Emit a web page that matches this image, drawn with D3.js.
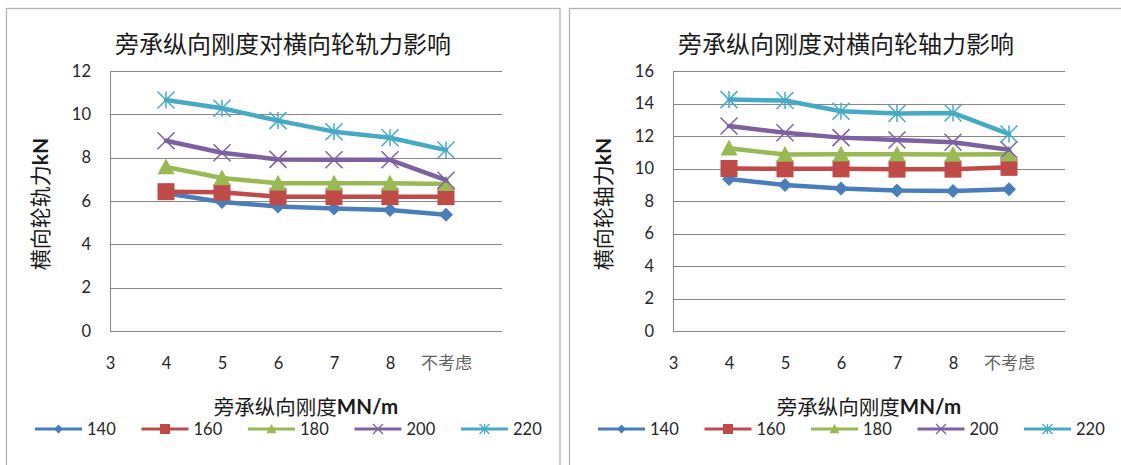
<!DOCTYPE html>
<html>
<head>
<meta charset="utf-8">
<script src="https://cdn.jsdelivr.net/npm/d3@7"></script>
<style>
  body { margin: 0; background: #fff; }
  svg { display: block; }
</style>
</head>
<body>
<svg id="chart" width="1121" height="465"></svg>
<script>
// Categories on the x axis (旁承纵向刚度, MN/m); "3" has no measurements
const categories = ["3", "4", "5", "6", "7", "8", "不考虑"];
const seriesNames = ["140", "160", "180", "200", "220"];

// 横向轮轨力 (kN)
const rail140 = [null, 6.36, 5.95, 5.75, 5.65, 5.58, 5.37];
const rail160 = [null, 6.43, 6.40, 6.20, 6.20, 6.20, 6.20];
const rail180 = [null, 7.57, 7.06, 6.82, 6.82, 6.82, 6.79];
const rail200 = [null, 8.78, 8.23, 7.92, 7.90, 7.90, 6.96];
const rail220 = [null, 10.66, 10.28, 9.71, 9.20, 8.92, 8.35];
const railTicks = [0, 2, 4, 6, 8, 10, 12];

// 横向轮轴力 (kN)
const axle140 = [null, 9.35, 8.98, 8.77, 8.64, 8.62, 8.73];
const axle160 = [null, 10.00, 9.98, 9.98, 9.96, 9.96, 10.07];
const axle180 = [null, 11.25, 10.86, 10.88, 10.88, 10.86, 10.88];
const axle200 = [null, 12.62, 12.20, 11.90, 11.75, 11.62, 11.15];
const axle220 = [null, 14.24, 14.18, 13.52, 13.38, 13.42, 12.12];
const axleTicks = [0, 2, 4, 6, 8, 10, 12, 14, 16];

const colors = ["#4a7ebb", "#be4b48", "#98b954", "#7d60a0", "#46aac5"];
const markerKinds = ["diamond", "square", "triangle", "cross", "star"];

const svg = d3.select("#chart");
const latin = "Lato, 'Noto Sans CJK SC', sans-serif";
const cjk = "'Noto Sans CJK SC', sans-serif";

// Marker path for a given kind centred on the origin; r = half size
function markerPath(kind, r) {
  const p = d3.path();
  switch (kind) {
    case "diamond":
      p.moveTo(0, -r); p.lineTo(r, 0); p.lineTo(0, r); p.lineTo(-r, 0); p.closePath(); break;
    case "square":
      p.rect(-r, -r, 2 * r, 2 * r); break;
    case "triangle":
      p.moveTo(0, -r); p.lineTo(r, r * 0.85); p.lineTo(-r, r * 0.85); p.closePath(); break;
    case "cross":
      p.moveTo(-r, -r); p.lineTo(r, r); p.moveTo(r, -r); p.lineTo(-r, r); break;
    case "star":
      p.moveTo(-r, -r); p.lineTo(r, r); p.moveTo(r, -r); p.lineTo(-r, r);
      p.moveTo(0, -r); p.lineTo(0, r); break;
  }
  return p.toString();
}
const isStroked = k => k === "cross" || k === "star";

function drawPanel(ox, title, yTitleMain, yTitleUnit, ticks, series) {
  const g = svg.append("g").attr("transform", `translate(${ox},0)`);

  // chart frame
  g.append("rect")
    .attr("x", 6.5).attr("y", 8.5).attr("width", 553.5).attr("height", 480)
    .attr("fill", "none").attr("stroke", "#b3b3b3").attr("stroke-width", 1.3);

  const left = 110, top = 71, bottom = 331, step = 56;
  const plotW = step * categories.length; // one empty slot after the last category

  const x = d3.scalePoint().domain(categories).range([left, left + step * (categories.length - 1)]);
  const y = d3.scaleLinear().domain([0, d3.max(ticks)]).range([bottom, top]);

  // horizontal gridlines + y tick labels
  const yAxis = g.append("g").attr("transform", `translate(${left},0)`)
    .call(d3.axisLeft(y).tickValues(ticks).tickSize(-plotW).tickPadding(19).tickFormat(d3.format("d")));
  yAxis.select(".domain").remove();
  yAxis.selectAll(".tick line").attr("stroke", "#878787").attr("stroke-width", 1)
    .attr("shape-rendering", "crispEdges");
  yAxis.selectAll(".tick text").attr("font-family", latin).attr("font-size", 16.5).attr("fill", "#262626");

  // vertical axis line
  g.append("line").attr("x1", left + 0.5).attr("x2", left + 0.5).attr("y1", top).attr("y2", bottom)
    .attr("stroke", "#878787").attr("stroke-width", 1).attr("shape-rendering", "crispEdges");

  // category labels
  const xAxis = g.append("g").attr("transform", `translate(0,${bottom})`)
    .call(d3.axisBottom(x).tickSize(0).tickPadding(26));
  xAxis.select(".domain").remove();
  xAxis.selectAll(".tick text").attr("font-family", latin)
    .attr("font-size", d => /\d/.test(d) ? 16.5 : 17)
    .attr("fill", d => /\d/.test(d) ? "#262626" : "#606060");

  // chart title
  g.append("text").attr("x", 283).attr("y", 42).attr("text-anchor", "middle")
    .attr("dominant-baseline", "central").attr("font-family", cjk).attr("font-size", 24)
    .attr("fill", "#1a1a1a").text(title);

  // y axis title
  const yt = g.append("text").attr("transform", "translate(39,204) rotate(-90)")
    .attr("text-anchor", "middle").attr("dominant-baseline", "central")
    .attr("font-family", latin).attr("font-size", 21).attr("fill", "#1a1a1a");
  yt.append("tspan").attr("font-family", cjk).text(yTitleMain);
  yt.append("tspan").attr("font-weight", "bold").text(yTitleUnit);

  // x axis title
  const xt = g.append("text").attr("x", left + plotW / 2).attr("y", 406)
    .attr("text-anchor", "middle").attr("dominant-baseline", "central")
    .attr("font-family", latin).attr("font-size", 20.5).attr("fill", "#1a1a1a");
  xt.append("tspan").attr("font-family", cjk).text("旁承纵向刚度");
  xt.append("tspan").attr("font-weight", "bold").text("MN/m");

  // series lines with markers
  const line = d3.line()
    .defined(d => d != null)
    .x((d, i) => x(categories[i]))
    .y(d => y(d));

  series.forEach((vals, si) => {
    const kind = markerKinds[si];
    g.append("path").datum(vals)
      .attr("d", line).attr("fill", "none").attr("stroke", colors[si])
      .attr("stroke-width", 4.5).attr("stroke-linejoin", "round").attr("stroke-linecap", "round");
    const pts = vals.map((v, i) => ({ v, c: categories[i] })).filter(p => p.v != null);
    const r = kind === "diamond" ? 7 : 8.5;
    g.selectAll(null).data(pts).join("path")
      .attr("transform", p => `translate(${x(p.c)},${y(p.v)})`)
      .attr("d", markerPath(kind, r))
      .attr("fill", isStroked(kind) ? "none" : colors[si])
      .attr("stroke", colors[si])
      .attr("stroke-width", isStroked(kind) ? 1.5 : 0);
  });

  // legend
  const lg = g.append("g").attr("transform", "translate(0,429)");
  seriesNames.forEach((name, si) => {
    const kind = markerKinds[si];
    const lx = 35 + si * 106.5;
    lg.append("line").attr("x1", lx).attr("x2", lx + 47).attr("y1", 0).attr("y2", 0)
      .attr("stroke", colors[si]).attr("stroke-width", 3);
    lg.append("path").attr("transform", `translate(${lx + 23.5},0)`)
      .attr("d", markerPath(kind, kind === "diamond" ? 4.5 : 5))
      .attr("fill", isStroked(kind) ? "none" : colors[si])
      .attr("stroke", colors[si]).attr("stroke-width", isStroked(kind) ? 1.3 : 0);
    lg.append("text").attr("x", lx + 52).attr("y", 0).attr("dominant-baseline", "central")
      .attr("font-family", latin).attr("font-size", 16.5).attr("fill", "#262626").text(name);
  });
}

drawPanel(0, "旁承纵向刚度对横向轮轨力影响", "横向轮轨力", "kN", railTicks,
  [rail140, rail160, rail180, rail200, rail220]);
drawPanel(563, "旁承纵向刚度对横向轮轴力影响", "横向轮轴力", "kN", axleTicks,
  [axle140, axle160, axle180, axle200, axle220]);
</script>
</body>
</html>
